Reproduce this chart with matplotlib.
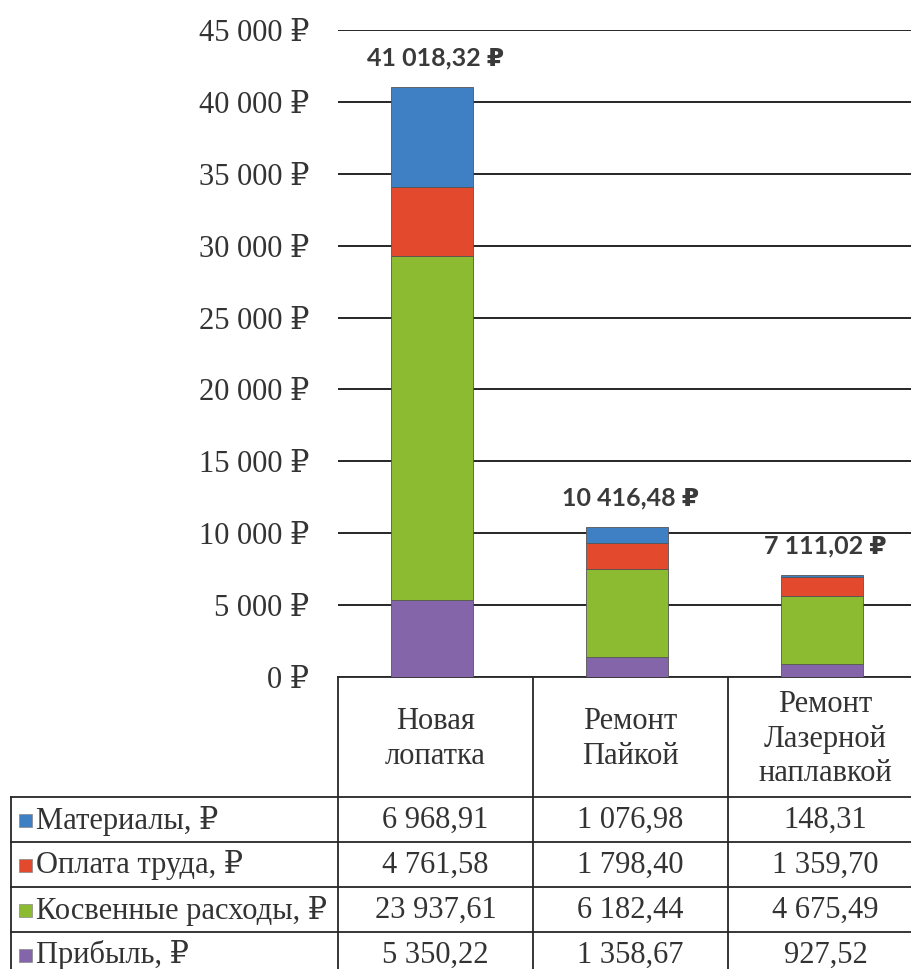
import numpy as np
import matplotlib.pyplot as plt
from matplotlib.patches import Rectangle

# data
categories = ["Новая\nлопатка", "Ремонт\nПайкой", "Ремонт\nЛазерной\nнаплавкой"]
series_names = ["Материалы, ₽", "Оплата труда, ₽", "Косвенные расходы, ₽", "Прибыль, ₽"]
materials = [6968.91, 1076.98, 148.31]
labour = [4761.58, 1798.40, 1359.70]
indirect = [23937.61, 6182.44, 4675.49]
profit = [5350.22, 1358.67, 927.52]
totals = [41018.32, 10416.48, 7111.02]
y_ticks = [0, 5000, 10000, 15000, 20000, 25000, 30000, 35000, 40000, 45000]

# styles
blue = "#3f80c4"
red = "#e2492d"
green = "#8cba30"
purple = "#8565aa"
line_col = "#262626"
text_col = "#333333"
serif = ["Liberation Serif", "DejaVu Serif"]
sans_bold = ["Lato", "DejaVu Sans"]
fs = 22


def money(v):
    return f"{v:,.2f}".replace(",", " ").replace(".", ",")


def tick_fmt(v):
    return f"{v:,.0f}".replace(",", " ") + " ₽"


W, H = 911, 969
fig = plt.figure(figsize=(W / 100, H / 100), dpi=100)
fig.patch.set_facecolor("white")

# layout in pixels
plot_left, plot_top, plot_bottom = 338, 30, 677
col_w = 195
head_bottom = 797
row_h = 45
left_edge = 11

ax = fig.add_axes([plot_left / W, (H - plot_bottom) / H, 3 * col_w / W,
                   (plot_bottom - plot_top) / H])
x = np.arange(len(categories))
stack = [(profit, purple), (indirect, green), (labour, red), (materials, blue)]
bottom = np.zeros(len(categories))
for vals, c in stack:
    ax.bar(x - 0.02, vals, 0.42, bottom=bottom, color=c, edgecolor="#555555",
           linewidth=0.6, zorder=3)
    bottom += np.array(vals)

for i, tot in enumerate(totals):
    ax.annotate(money(tot) + " ₽", (i, bottom[i]), xytext=(0, 21),
                textcoords="offset points", ha="center", va="center",
                fontsize=18, fontweight="bold", color="#3a3a3a", family=sans_bold)

ax.set_xlim(-0.5, 2.5)
ax.set_ylim(0, 45000)
ax.set_yticks(y_ticks)
ax.set_yticklabels([tick_fmt(v) for v in y_ticks], family=serif, fontsize=fs,
                   color=text_col)
ax.yaxis.grid(True, color=line_col, linewidth=1.4)
ax.set_axisbelow(True)
ax.tick_params(left=False, bottom=False, labelbottom=False, pad=17)
for s in ax.spines.values():
    s.set_visible(False)

# data table below the chart
tab = fig.add_axes([0, 0, 1, 1], zorder=-1)
tab.set_xlim(0, W)
tab.set_ylim(H, 0)
tab.axis("off")

col_edges = [plot_left + k * col_w for k in range(len(categories) + 1)]
table_bottom = head_bottom + row_h * len(series_names)
for xe in col_edges:
    tab.plot([xe, xe], [plot_bottom, table_bottom], color=line_col, lw=1.3)
tab.plot([left_edge, left_edge], [head_bottom, table_bottom], color=line_col, lw=1.3)
tab.plot([plot_left, col_edges[-1]], [plot_bottom, plot_bottom], color=line_col, lw=1.3)
for r in range(len(series_names) + 1):
    yy = head_bottom + r * row_h
    tab.plot([left_edge, col_edges[-1]], [yy, yy], color=line_col, lw=1.3)

for i, cat in enumerate(categories):
    tab.text(plot_left + (i + 0.5) * col_w, (plot_bottom + head_bottom) / 2 + 2, cat,
             ha="center", va="center", fontsize=fs, family=serif,
             color=text_col, linespacing=1.25)

rows = [materials, labour, indirect, profit]
row_cols = [blue, red, green, purple]
for r, (name, vals, c) in enumerate(zip(series_names, rows, row_cols)):
    yc = head_bottom + (r + 0.5) * row_h
    tab.add_patch(Rectangle((19, yc - 6), 13, 13, facecolor=c, edgecolor="#888888", lw=0.5))
    tab.text(36, yc + 1, name, ha="left", va="center", fontsize=fs, family=serif,
             color=text_col)
    for i, v in enumerate(vals):
        tab.text(plot_left + (i + 0.5) * col_w, yc + 1, money(v), ha="center",
                 va="center", fontsize=fs, family=serif, color=text_col)

fig.savefig("out.png", dpi=100, facecolor="white")
